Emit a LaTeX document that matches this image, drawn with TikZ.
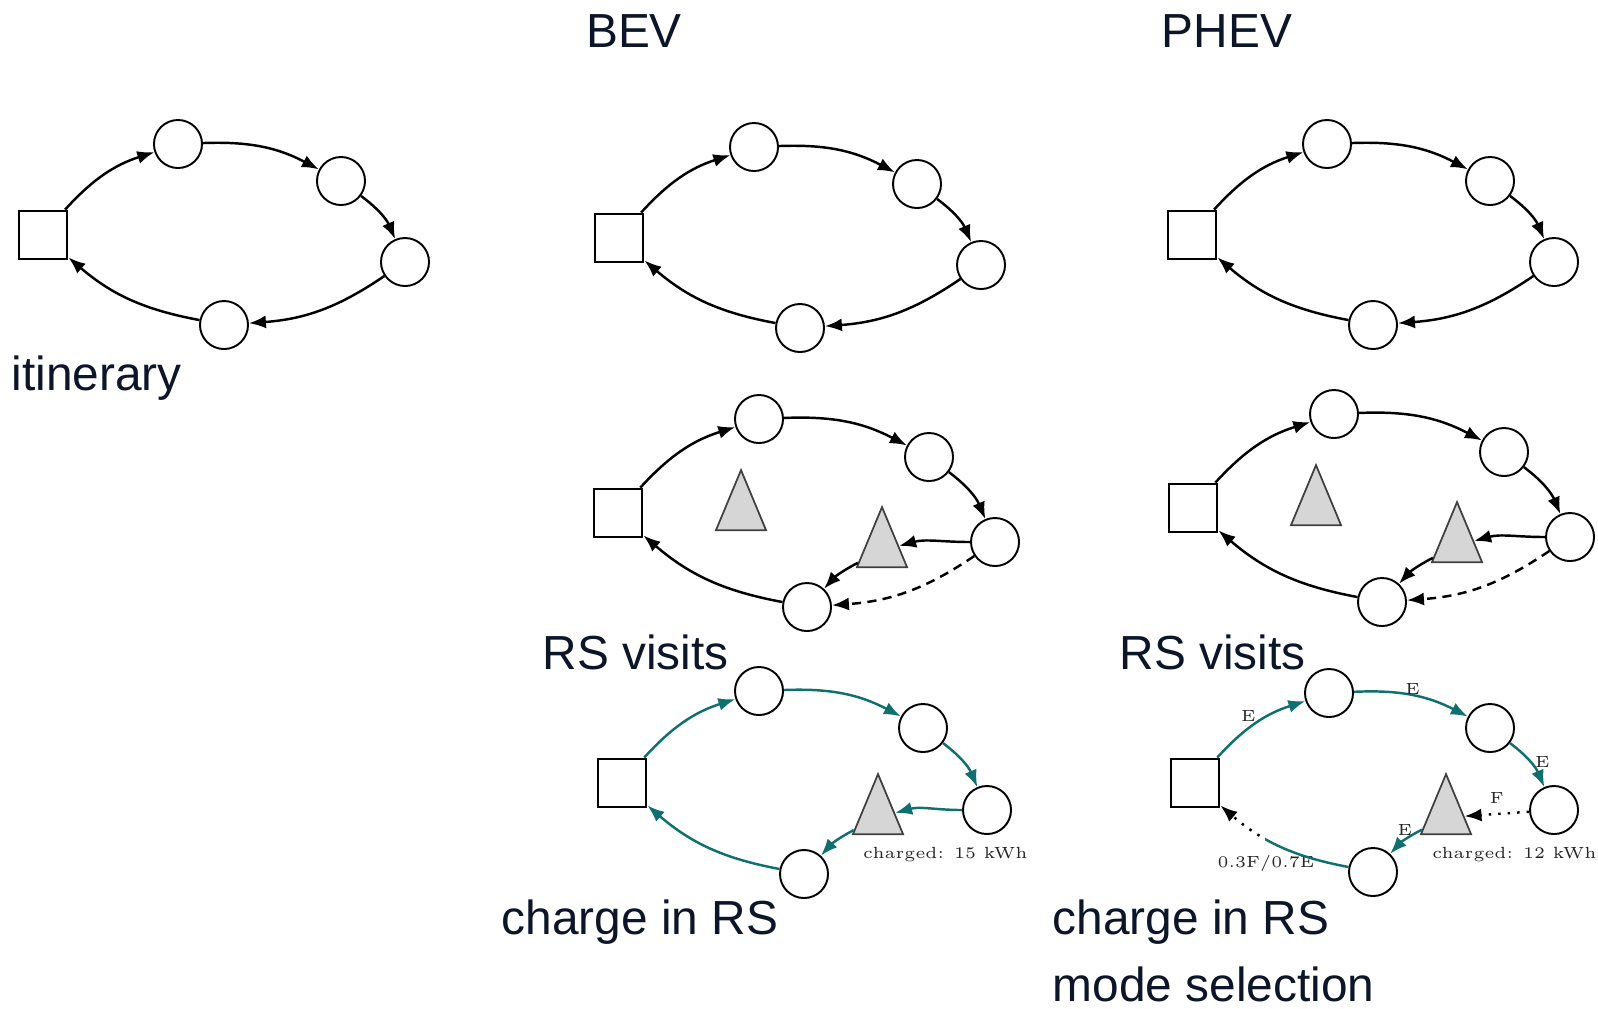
\documentclass[tikz,border=0pt]{standalone}
\usepackage{fontspec}
\setsansfont{Liberation Sans}
\usetikzlibrary{shapes.geometric,arrows.meta}
\definecolor{routeteal}{RGB}{16,112,112}
\definecolor{labelnavy}{RGB}{13,22,40}
\definecolor{rsgray}{RGB}{214,214,214}
\begin{document}
\begin{tikzpicture}[
  x=0.01cm, y=-0.01cm,
  stop/.style={circle, draw, line width=0.55pt, minimum size=4.8mm, inner sep=0pt},
  depot/.style={rectangle, draw, line width=0.8pt, minimum size=4.8mm, inner sep=0pt},
  rs/.style={isosceles triangle, isosceles triangle stretches, shape border rotate=90,
    draw=black!75, fill=rsgray, line width=0.5pt, minimum width=5mm, minimum height=6mm,
    inner sep=0pt, anchor=lower side},
  leg/.style={line width=0.7pt, -{Latex[length=1.7mm,width=1.3mm]}},
  title/.style={font=\sffamily\fontsize{13.6}{16}\selectfont, text=labelnavy, inner sep=0pt},
  tag/.style={font=\rmfamily\fontsize{4.6}{6}\selectfont, text=black!85, inner sep=1pt}
]
\useasboundingbox (0,0) rectangle (1598,1008);

% titles
\node[title, anchor=base] (bev) at (634,47) {BEV};
\node[title, anchor=base] (phev) at (1227,47) {PHEV};
\node[title, anchor=base west] (itin) at (11,390) {itinerary};
\node[title, anchor=base west] (visb) at (542,669) {RS visits};
\node[title, anchor=base west] (visp) at (1119,669) {RS visits};
\node[title, anchor=base west] (chgb) at (501,934) {charge in RS};
\node[title, anchor=base west] (chgp) at (1052,934) {charge in RS};
\node[title, anchor=base west] (mode) at (1052,1001) {mode selection};

% plain itinerary, three times
\foreach \p/\dx/\dy in {a/0/0, b/576/3, c/1149/0}{
  \begin{scope}[shift={(\dx,\dy)}]
    \node[depot] (\p0) at (43,235) {};
    \node[stop] (\p1) at (178,144) {};
    \node[stop] (\p2) at (341,181) {};
    \node[stop] (\p3) at (405,262) {};
    \node[stop] (\p4) at (224,325) {};
    \draw[leg] (\p0) to[bend left=15] (\p1);
    \draw[leg] (\p1) to[bend left=15] (\p2);
    \draw[leg] (\p2) to[bend left=15] (\p3);
    \draw[leg] (\p3) to[bend left=15] (\p4);
    \draw[leg] (\p4) to[bend left=15] (\p0);
  \end{scope}
}

% itinerary with RS visits
\foreach \p/\dx/\dy in {m/0/0, n/575/-5}{
  \begin{scope}[shift={(\dx,\dy)}]
    \node[depot] (\p0) at (618,513) {};
    \node[stop] (\p1) at (759,419) {};
    \node[stop] (\p2) at (929,457) {};
    \node[stop] (\p3) at (995,542) {};
    \node[stop] (\p4) at (807,607) {};
    \node[rs] (\p5) at (741,531) {};
    \node[rs] (\p6) at (882,568) {};
    \draw[leg] (\p0) to[bend left=15] (\p1);
    \draw[leg] (\p1) to[bend left=15] (\p2);
    \draw[leg] (\p2) to[bend left=15] (\p3);
    \draw[leg] (\p3.west) to[out=180, in=15] (\p6);
    \draw[leg] (\p6) to[bend right=10] (\p4);
    \draw[leg, dash pattern={on 2.6pt off 1.8pt}] (\p3) to[bend left=15] (\p4);
    \draw[leg] (\p4) to[bend left=15] (\p0);
  \end{scope}
}

% BEV: charge in RS
\node[depot] (u0) at (622,783) {};
\node[stop] (u1) at (759,691) {};
\node[stop] (u2) at (923,728) {};
\node[stop] (u3) at (987,810) {};
\node[stop] (u4) at (804,874) {};
\node[rs] (u5) at (878,835) {};
\node[tag, anchor=west] (u6) at (859,855) {charged: 15 kWh};
\draw[leg, routeteal] (u0) to[bend left=15] (u1);
\draw[leg, routeteal] (u1) to[bend left=15] (u2);
\draw[leg, routeteal] (u2) to[bend left=15] (u3);
\draw[leg, routeteal] (u3.west) to[out=180, in=15] (u5);
\draw[leg, routeteal] (u5) to[bend right=10] (u4);
\draw[leg, routeteal] (u4) to[bend left=15] (u0);

% PHEV: charge in RS and mode selection
\node[depot] (v0) at (1195,783) {};
\node[stop] (v1) at (1329,693) {};
\node[stop] (v2) at (1490,728) {};
\node[stop] (v3) at (1554,810) {};
\node[stop] (v4) at (1373,872) {};
\node[rs] (v5) at (1446,835) {};
\node[tag, anchor=west] (v6) at (1428,855) {charged: 12 kWh};
\node[tag] (v7) at (1266,863) {0.3F/0.7E};
\draw[leg, routeteal] (v0) to[bend left=15] node[tag, above left, inner sep=0pt] {E} (v1);
\draw[leg, routeteal] (v1) to[bend left=15] node[tag, above, inner sep=0pt] {E} (v2);
\draw[leg, routeteal] (v2) to[bend left=15] node[tag, right] {E} (v3);
\draw[leg, dotted] (v3) to node[tag, above, yshift=1.5pt] {F} (v5);
\draw[leg, routeteal] (v5) to[bend right=10] node[tag, above] {E} (v4);
\begin{scope}
  \clip (1265,700) rectangle (1420,920);
  \draw[leg, routeteal] (v4) to[bend left=15] (v0);
\end{scope}
\begin{scope}
  \clip (1150,700) rectangle (1265,920);
  \draw[leg, dotted] (v4) to[bend left=15] (v0);
\end{scope}
\end{tikzpicture}
\end{document}
